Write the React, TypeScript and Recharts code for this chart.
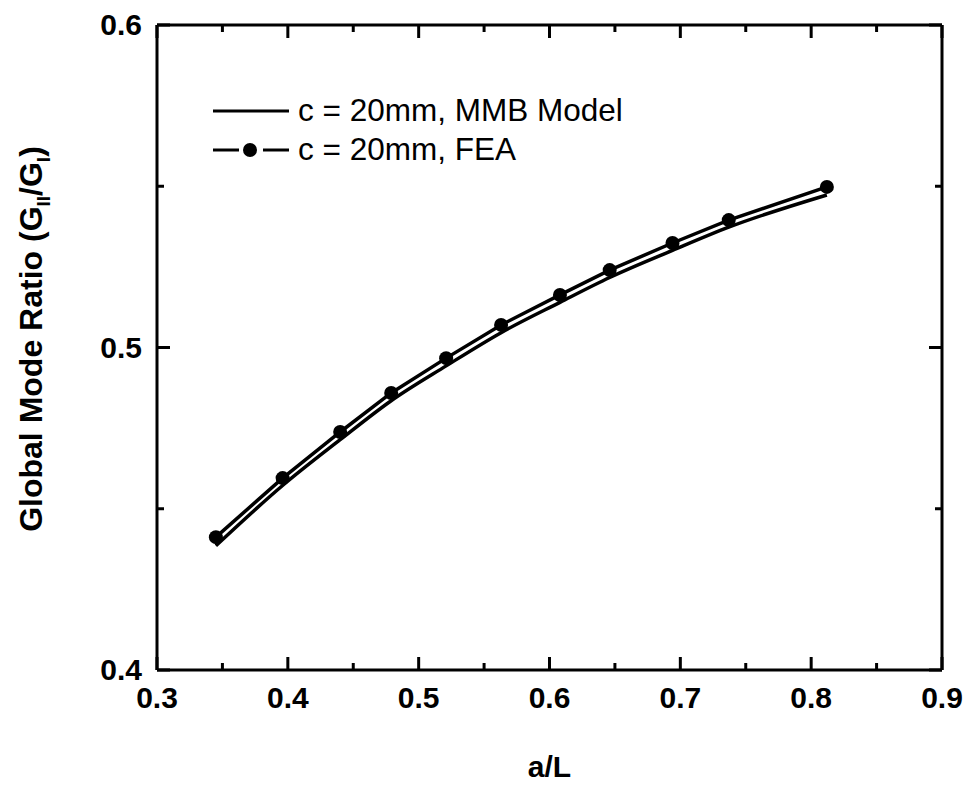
import React from "react";
import {
  ComposedChart,
  Line,
  XAxis,
  YAxis,
  Legend,
} from "recharts";

const A_OVER_L = [0.345, 0.396, 0.44, 0.479, 0.521, 0.563, 0.608, 0.646, 0.694, 0.737, 0.812];
const MMB_MODEL = [0.4385, 0.4572, 0.4714, 0.4835, 0.4943, 0.5046, 0.514, 0.5217, 0.5301, 0.5373, 0.5473];
const FEA = [0.4412, 0.4595, 0.4738, 0.4859, 0.4967, 0.507, 0.5163, 0.524, 0.5324, 0.5395, 0.5498];

const X_TICKS = [0.3, 0.35, 0.4, 0.45, 0.5, 0.55, 0.6, 0.65, 0.7, 0.75, 0.8, 0.85, 0.9];
const Y_TICKS = [0.4, 0.45, 0.5, 0.55, 0.6];

const data = A_OVER_L.map((x, i) => ({ x, mmb: MMB_MODEL[i], fea: FEA[i] }));

const FONT = "'Liberation Sans', Arial, sans-serif";
const MAJOR = 13;
const MINOR = 7;

const isMajor = (v: number) => Math.abs(v * 10 - Math.round(v * 10)) < 1e-6;

function BottomTick({ x, y, payload }: any) {
  const len = isMajor(payload.value) ? MAJOR : MINOR;
  return (
    <g>
      <line x1={x} x2={x} y1={y} y2={y - len} stroke="#000" strokeWidth={3} />
      {isMajor(payload.value) && (
        <text x={x} y={y + 38} textAnchor="middle" fontFamily={FONT} fontWeight="bold" fontSize={30} fill="#000">
          {payload.value.toFixed(1)}
        </text>
      )}
    </g>
  );
}

function TopTick({ x, y, payload }: any) {
  const len = isMajor(payload.value) ? MAJOR : MINOR;
  return <line x1={x} x2={x} y1={y} y2={y + len} stroke="#000" strokeWidth={3} />;
}

function LeftTick({ x, y, payload }: any) {
  const len = isMajor(payload.value) ? MAJOR : MINOR;
  return (
    <g>
      <line x1={x} x2={x + len} y1={y} y2={y} stroke="#000" strokeWidth={3} />
      {isMajor(payload.value) && (
        <text x={x - 15} y={y + 10} textAnchor="end" fontFamily={FONT} fontWeight="bold" fontSize={30} fill="#000">
          {payload.value.toFixed(1)}
        </text>
      )}
    </g>
  );
}

function RightTick({ x, y, payload }: any) {
  const len = isMajor(payload.value) ? MAJOR : MINOR;
  return <line x1={x} x2={x - len} y1={y} y2={y} stroke="#000" strokeWidth={3} />;
}

function LegendBox() {
  const row = { display: "flex", alignItems: "center", height: 39 } as const;
  const sample = { flexShrink: 0, display: "block" } as const;
  const label = { fontFamily: FONT, fontSize: 31.5, color: "#000", marginLeft: 9, whiteSpace: "nowrap" } as const;
  return (
    <div style={{ width: 500 }}>
      <div style={row}>
        <svg width={76} height={20} style={sample}>
          <line x1={0} x2={76} y1={10} y2={10} stroke="#000" strokeWidth={3} />
        </svg>
        <span style={label}>c = 20mm, MMB Model</span>
      </div>
      <div style={row}>
        <svg width={76} height={20} style={sample}>
          <line x1={0} x2={26} y1={10} y2={10} stroke="#000" strokeWidth={3} />
          <circle cx={37} cy={10} r={7} fill="#000" />
          <line x1={50} x2={76} y1={10} y2={10} stroke="#000" strokeWidth={3} />
        </svg>
        <span style={label}>c = 20mm, FEA</span>
      </div>
    </div>
  );
}

export default function App() {
  return (
    <div style={{ position: "absolute", left: 0, top: 0, width: 969, height: 790, background: "#fff" }}>
      <ComposedChart width={969} height={790} data={data} margin={{ top: 0, right: 0, bottom: 0, left: 0 }}>
        <XAxis
          dataKey="x"
          type="number"
          domain={[0.3, 0.9]}
          ticks={X_TICKS}
          interval={0}
          height={120}
          tickSize={0}
          tickMargin={0}
          tickLine={false}
          axisLine={{ stroke: "#000", strokeWidth: 3 }}
          tick={BottomTick}
          allowDataOverflow
        />
        <XAxis
          xAxisId="top"
          dataKey="x"
          orientation="top"
          type="number"
          domain={[0.3, 0.9]}
          ticks={X_TICKS}
          interval={0}
          height={25}
          tickSize={0}
          tickMargin={0}
          tickLine={false}
          axisLine={{ stroke: "#000", strokeWidth: 3 }}
          tick={TopTick}
          allowDataOverflow
        />
        <YAxis
          type="number"
          domain={[0.4, 0.6]}
          ticks={Y_TICKS}
          interval={0}
          width={157}
          tickSize={0}
          tickMargin={0}
          tickLine={false}
          axisLine={{ stroke: "#000", strokeWidth: 3 }}
          tick={LeftTick}
          allowDataOverflow
          label={{
            content: () => (
              <text
                transform="translate(42, 339) rotate(-90)"
                textAnchor="middle"
                fontFamily={FONT}
                fontWeight="bold"
                fontSize={32}
                fill="#000"
              >
                Global Mode Ratio (G
                <tspan fontSize={19} dy={8}>II</tspan>
                <tspan dy={-8}>/G</tspan>
                <tspan fontSize={19} dy={8}>I</tspan>
                <tspan dy={-8}>)</tspan>
              </text>
            ),
          }}
        />
        <YAxis
          yAxisId="right"
          orientation="right"
          type="number"
          domain={[0.4, 0.6]}
          ticks={Y_TICKS}
          interval={0}
          width={27}
          tickSize={0}
          tickMargin={0}
          tickLine={false}
          axisLine={{ stroke: "#000", strokeWidth: 3 }}
          tick={RightTick}
          allowDataOverflow
        />
        <Legend
          content={<LegendBox />}
          wrapperStyle={{ position: "absolute", left: 213, top: 91, width: 0, height: 0, overflow: "visible" }}
        />
        <Line
          xAxisId="top"
          type="monotone"
          dataKey="mmb"
          stroke="#000"
          strokeWidth={3.5}
          dot={false}
          activeDot={false}
          isAnimationActive={false}
        />
        <Line
          type="linear"
          dataKey="fea"
          stroke="#000"
          strokeWidth={3.5}
          dot={{ r: 7, fill: "#000", stroke: "#000", strokeWidth: 0 }}
          activeDot={false}
          isAnimationActive={false}
        />
      </ComposedChart>
      <div
        style={{
          position: "absolute",
          left: 157,
          width: 785,
          top: 752,
          textAlign: "center",
          fontFamily: FONT,
          fontWeight: "bold",
          fontSize: 30,
          lineHeight: "30px",
          color: "#000",
        }}
      >
        a/L
      </div>
    </div>
  );
}
